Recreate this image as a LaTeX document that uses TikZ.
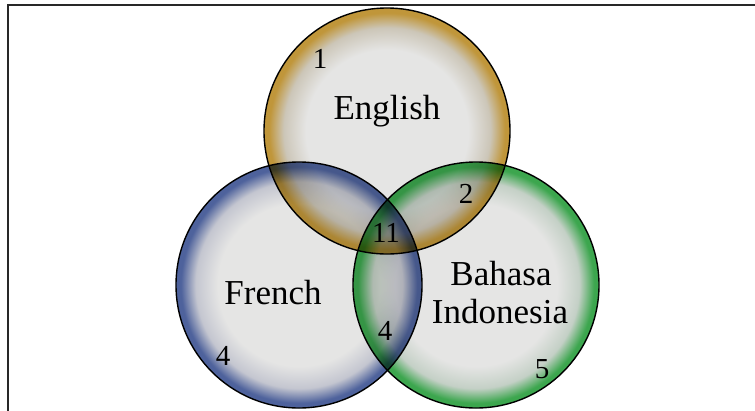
\documentclass[tikz,border=0pt]{standalone}
\usepackage{fontspec}
\setmainfont{Liberation Serif}
\usetikzlibrary{calc}

% body and rim colours of the three sets
\definecolor{setgray}{RGB}{229,229,228}
\definecolor{goldmid}{RGB}{204,198,184}
\definecolor{goldrim}{RGB}{192,150,58}
\definecolor{bluemid}{RGB}{196,198,208}
\definecolor{bluerim}{RGB}{78,98,156}
\definecolor{greenmid}{RGB}{196,208,198}
\definecolor{greenrim}{RGB}{60,166,78}
\definecolor{framegray}{RGB}{40,40,40}

% radial fills: flat grey body, coloured rim (25bp = circle edge)
\pgfdeclareradialshading{setgold}{\pgfpoint{0bp}{0bp}}{%
  color(0bp)=(setgray); color(16.5bp)=(setgray); color(21bp)=(goldmid);
  color(24bp)=(goldrim); color(25bp)=(goldrim); color(50bp)=(goldrim)}
\pgfdeclareradialshading{setblue}{\pgfpoint{0bp}{0bp}}{%
  color(0bp)=(setgray); color(16.5bp)=(setgray); color(21bp)=(bluemid);
  color(24bp)=(bluerim); color(25bp)=(bluerim); color(50bp)=(bluerim)}
\pgfdeclareradialshading{setgreen}{\pgfpoint{0bp}{0bp}}{%
  color(0bp)=(setgray); color(16.5bp)=(setgray); color(21bp)=(greenmid);
  color(24bp)=(greenrim); color(25bp)=(greenrim); color(50bp)=(greenrim)}

\tikzset{
  setfill/.style={shading=#1, blend mode=multiply},
  setedge/.style={draw=black, line width=1.4pt},
  setname/.style={font=\fontsize{35}{40}\selectfont, inner sep=0pt, anchor=base, align=center},
  setcount/.style={font=\fontsize{29}{32}\selectfont, inner sep=0pt, anchor=base},
}

\begin{document}
\begin{tikzpicture}[x=1pt, y=-1pt]
  \useasboundingbox (0,0) rectangle (755,410);
  \fill[white] (0,0) rectangle (755,410);
  \begin{scope}
    \clip (0,0) rectangle (755,410);
    \draw[framegray, line width=1.5pt] (8,5) rectangle (820,470);
  \end{scope}

  % set centres
  \coordinate (E) at (387,131);
  \coordinate (F) at (299,285);
  \coordinate (B) at (476,285);

  % shaded bodies, multiplied so overlaps darken
  \path[setfill=setgold]  (E) circle[radius=123];
  \path[setfill=setblue]  (F) circle[radius=123];
  \path[setfill=setgreen] (B) circle[radius=123];

  % outlines on top
  \path[setedge] (E) circle[radius=123];
  \path[setedge] (F) circle[radius=123];
  \path[setedge] (B) circle[radius=123];

  % set names
  \node[setname] (lE) at (387,119) {English};
  \node[setname] (lF) at (273,304) {French};
  \node[setname] (lB1) at (501,285) {Bahasa};
  \node[setname] (lB2) at (500,323) {Indonesia};

  % region counts
  \node[setcount] (nE)   at (320,68)  {1};
  \node[setcount] (nEB)  at (466,203) {2};
  \node[setcount] (nEFB) at (386,242) {11};
  \node[setcount] (nFB)  at (385,340) {4};
  \node[setcount] (nF)   at (223,365) {4};
  \node[setcount] (nB)   at (542,378) {5};
\end{tikzpicture}
\end{document}
